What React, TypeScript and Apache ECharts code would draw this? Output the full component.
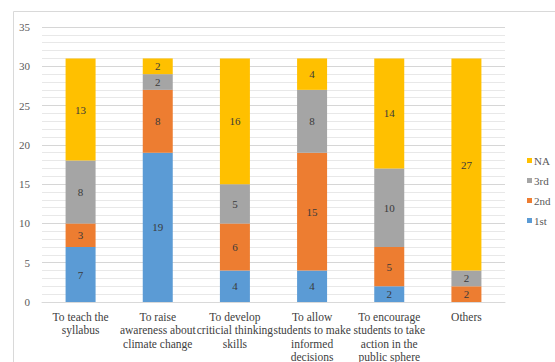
import React, { useEffect, useRef } from "react";
import * as echarts from "echarts";

const categories = [
  "To teach the\nsyllabus",
  "To raise\nawareness about\nclimate change",
  "To develop\ncriticial thinking\nskills",
  "To allow\nstudents to make\ninformed\ndecisions",
  "To encourage\nstudents to take\naction in the\npublic sphere",
  "Others",
];
const first = [7, 19, 4, 4, 2, 0];
const second = [3, 8, 6, 15, 5, 2];
const third = [8, 2, 5, 8, 10, 2];
const na = [13, 2, 16, 4, 14, 27];

const FONT = "'Liberation Serif', 'Times New Roman', serif";

export default function App() {
  const ref = useRef<HTMLDivElement>(null);
  useEffect(() => {
    if (!ref.current) return;
    const chart = echarts.init(ref.current, undefined, { renderer: "svg" });
    const label = {
      show: true,
      position: "inside",
      color: "#3a3a3a",
      fontSize: 11,
      fontFamily: FONT,
      formatter: (p: any) => (p.value ? String(p.value) : ""),
    };
    const mk = (name: string, data: number[], color: string) => ({
      name,
      type: "bar",
      stack: "total",
      data,
      barWidth: 30,
      itemStyle: { color },
      label,
    });
    chart.setOption({
      animation: false,
      textStyle: { fontFamily: FONT },
      graphic: [
        {
          type: "rect",
          shape: { x: 13.5, y: 11.5, width: 560, height: 370 },
          style: { fill: "none", stroke: "#d9d9d9", lineWidth: 1 },
        },
      ],
      grid: {
        left: 42,
        right: 50,
        top: 27,
        bottom: 60,
        containLabel: false,
        outerBoundsMode: "none",
      },
      legend: {
        orient: "vertical",
        left: 522,
        top: 150,
        itemWidth: 5,
        itemHeight: 5,
        itemGap: 9,
        icon: "rect",
        data: ["NA", "3rd", "2nd", "1st"],
        textStyle: { fontFamily: FONT, fontSize: 11, color: "#595959", padding: [0, 0, 0, -3] },
      },
      xAxis: {
        type: "category",
        data: categories,
        axisLine: { lineStyle: { color: "#d9d9d9" } },
        axisTick: { show: false },
        axisLabel: {
          interval: 0,
          fontFamily: FONT,
          fontSize: 11.5,
          lineHeight: 13.5,
          color: "#404040",
          margin: 8,
        },
      },
      yAxis: {
        type: "value",
        min: 0,
        max: 35,
        interval: 5,
        axisLine: { show: false },
        axisTick: { show: false },
        axisLabel: { fontFamily: FONT, fontSize: 11, color: "#595959", margin: 12 },
        splitLine: { lineStyle: { color: "#d6d6d6" } },
        minorTick: { show: false, splitNumber: 5 },
        minorSplitLine: { show: true, lineStyle: { color: "#e8e8e8" } },
      },
      series: [
        mk("1st", first, "#5B9BD5"),
        mk("2nd", second, "#ED7D31"),
        mk("3rd", third, "#A5A5A5"),
        mk("NA", na, "#FFC000"),
      ],
    });
    return () => chart.dispose();
  }, []);
  return (
    <div
      ref={ref}
      style={{ position: "fixed", left: 0, top: 0, width: 555, height: 362, background: "#fff" }}
    />
  );
}
